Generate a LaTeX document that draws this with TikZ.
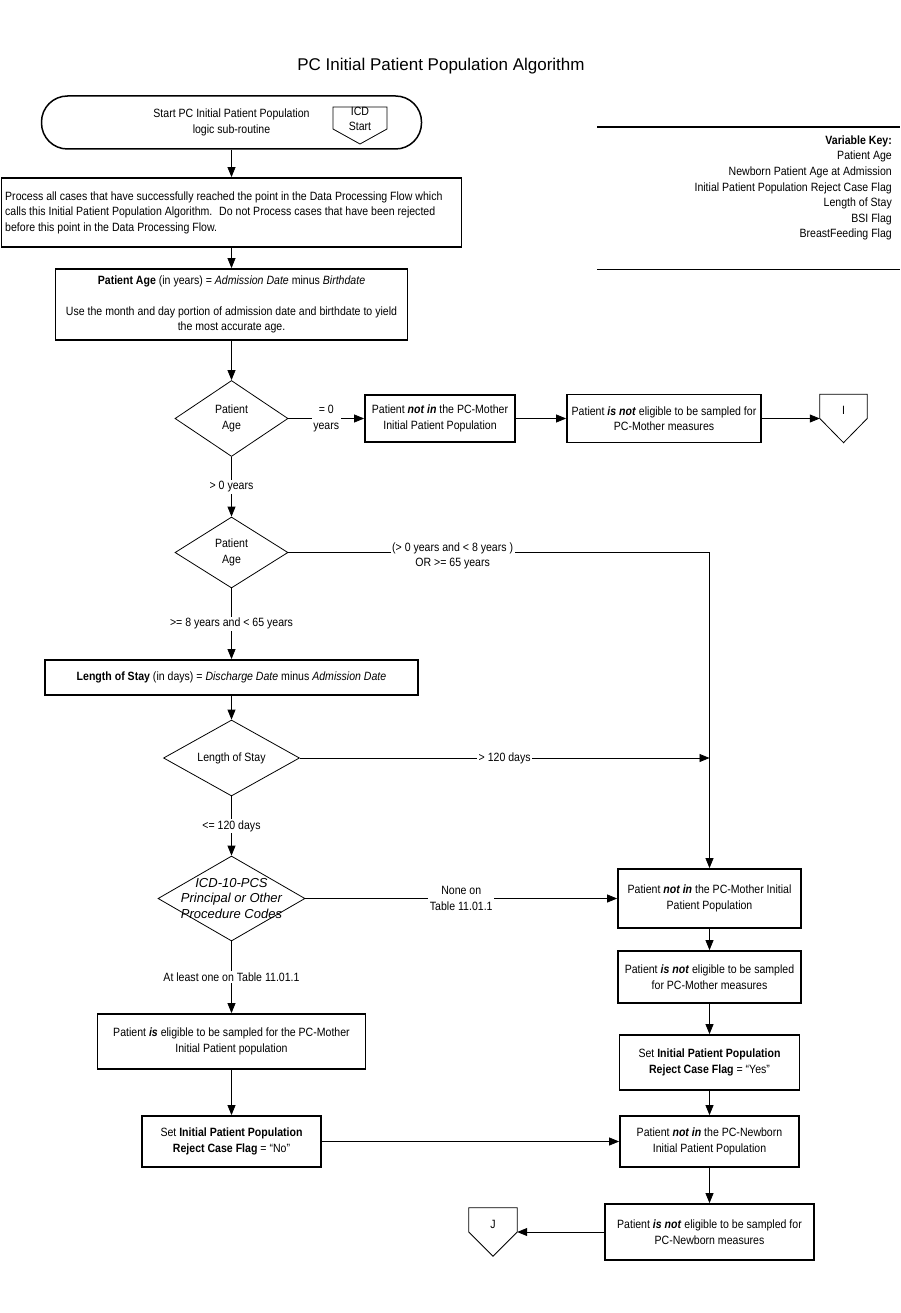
\documentclass[tikz,border=0pt]{standalone}
\usepackage{fontspec}
\setmainfont{Liberation Sans}
\newfontfamily\bodyfont{Liberation Sans}[FakeStretch=0.88]
\usetikzlibrary{shapes.geometric,arrows.meta,calc}
\tikzset{
  txt/.style={font={\bodyfont\fontsize{12}{15.5}\selectfont}, align=center, inner sep=1pt},
  box/.style={txt, draw, line width=1.8pt, inner sep=2pt},
  term/.style={txt, draw, line width=1.5pt, rounded corners=26pt},
  dec/.style={diamond, draw, line width=0.8pt, inner sep=0pt},
  lbl/.style={txt, fill=white, inner sep=1.5pt},
  conn/.style={line width=0.8pt},
  arr/.style={conn, -{Triangle[length=10pt,width=8pt]}},
  offpg/.style={inner sep=0pt, minimum width=47pt, minimum height=48pt},
}
\begin{document}
\begin{tikzpicture}[x=1pt,y=-1pt]
\useasboundingbox (0,0) rectangle (900,1313);

\node[font={\fontsize{17}{20}\selectfont}, inner sep=0pt] (title) at (441,66) {PC Initial Patient Population Algorithm};

% start terminator
\node[term, minimum width=380pt, minimum height=53pt] (start) at (231.5,122.5) {Start PC Initial Patient Population\\logic sub-routine};
\node[txt] (icd) at (360,119) {ICD\\Start};
\draw[conn] ($(icd)+(-27,-12)$) -- ($(icd)+(27,-12)$) -- ($(icd)+(27,10)$) -- ($(icd)+(0,25)$) -- ($(icd)+(-27,10)$) -- cycle;

% variable key
\draw[line width=2pt] (597,127) -- (900,127);
\draw[line width=1pt] (597,270) -- (900,270);
\node[txt, align=right, anchor=north east, font={\bodyfont\fontsize{12}{15.6}\selectfont}] (key) at (893,134.5)
  {\textbf{Variable Key:}\\Patient Age\\Newborn Patient Age at Admission\\Initial Patient Population Reject Case Flag\\Length of Stay\\BSI Flag\\BreastFeeding Flag};

% left column
\node[box, minimum width=460pt, minimum height=69pt] (proc) at (231.5,212.5) {};
\node[txt, align=left, anchor=west] (proctxt) at (4,212.5)
  {Process all cases that have successfully reached the point in the Data Processing Flow which\\calls this Initial Patient Population Algorithm.~ Do not Process cases that have been rejected\\before this point in the Data Processing Flow.};
\node[box, minimum width=352pt, minimum height=71pt] (age) at (231.5,304.5)
  {\textbf{Patient Age} (in years) = \textit{Admission Date} minus \textit{Birthdate}\\[15.5pt]Use the month and day portion of admission date and birthdate to yield\\the most accurate age.};
\node[dec, minimum width=113pt, minimum height=76pt, label={[txt]center:Patient\\Age}] (d1) at (231.5,418.5) {};
\node[dec, minimum width=113pt, minimum height=71pt, label={[txt]center:Patient\\Age}] (d2) at (231.5,552.5) {};
\node[box, minimum width=373pt, minimum height=35pt] (los) at (231.5,677.5)
  {\textbf{Length of Stay} (in days) = \textit{Discharge Date} minus \textit{Admission Date}};
\node[dec, minimum width=136pt, minimum height=76pt, label={[txt]center:Length of Stay}] (d3) at (231.5,758) {};
\node[dec, minimum width=147pt, minimum height=85pt, label={[txt, font={\fontsize{13}{15.5}\selectfont\itshape}]center:ICD-10-PCS\\Principal or Other\\Procedure Codes}] (d4) at (231.5,898.5) {};
\node[box, minimum width=268pt, minimum height=55pt] (l1) at (231.5,1041.5)
  {Patient \textbf{\textit{is}} eligible to be sampled for the PC-Mother\\Initial Patient population};
\node[box, minimum width=179pt, minimum height=51pt] (l2) at (231.5,1141.5)
  {Set \textbf{Initial Patient Population}\\\textbf{Reject Case Flag} = “No”};

% top row
\node[box, minimum width=150pt, minimum height=47pt] (m1) at (440,418.5)
  {Patient \textbf{\textit{not in}} the PC-Mother\\Initial Patient Population};
\node[box, minimum width=194pt, minimum height=48pt] (m2) at (664,418.5)
  {Patient \textbf{\textit{is not}} eligible to be sampled for\\PC-Mother measures};
\node[offpg] (I) at (843.5,418.5) {};
\draw[conn] (I.north west) -- (I.north east) -- (I.east) -- (I.south) -- (I.west) -- cycle;
\node[txt] (Itxt) at ($(I)+(0,-8)$) {I};

% right column
\node[box, minimum width=183pt, minimum height=59pt] (r1) at (709.5,898.5)
  {Patient \textbf{\textit{not in}} the PC-Mother Initial\\Patient Population};
\node[box, minimum width=183pt, minimum height=52pt] (r2) at (709.5,977)
  {Patient \textbf{\textit{is not}} eligible to be sampled\\for PC-Mother measures};
\node[box, minimum width=180pt, minimum height=55pt] (r3) at (709.5,1062.5)
  {Set \textbf{Initial Patient Population}\\\textbf{Reject Case Flag} = “Yes”};
\node[box, minimum width=179pt, minimum height=51pt] (r4) at (709.5,1141.5)
  {Patient \textbf{\textit{not in}} the PC-Newborn\\Initial Patient Population};
\node[box, minimum width=209pt, minimum height=56pt] (r5) at (709.5,1232)
  {Patient \textbf{\textit{is not}} eligible to be sampled for\\PC-Newborn measures};
\node[offpg, minimum width=48pt] (J) at (493,1232) {};
\draw[conn] (J.north west) -- (J.north east) -- (J.east) -- (J.south) -- (J.west) -- cycle;
\node[txt] (Jtxt) at ($(J)+(0,-8)$) {J};

\coordinate (turn) at (r1.north |- d2.east);
\coordinate (join) at (r1.north |- d3.east);

% connectors
\draw[arr] (start) -- (proc);
\draw[arr] (proc) -- (age);
\draw[arr] (age) -- (d1);
\draw[arr] (d1.east) -- node[lbl] (la) {= 0\\years} (m1.west);
\draw[arr] (m1) -- (m2);
\draw[arr] (m2.east) -- (I.west);
\draw[arr] (d1.south) -- node[lbl] (lb) {> 0 years} (d2.north);
\draw[arr] (d2.east) -- node[lbl, pos=0.39, yshift=-3.5pt] (lc) {(> 0 years and < 8 years )\\OR >= 65 years} (turn) -- (r1.north);
\draw[arr] (d2.south) -- node[lbl] (ld) {>= 8 years and < 65 years} (los.north);
\draw[arr] (los) -- (d3);
\draw[arr] (d3.east) -- node[lbl] (le) {> 120 days} (join);
\draw[arr] (d3.south) -- node[lbl] (lf) {<= 120 days} (d4.north);
\draw[arr] (d4.east) -- node[lbl] (lg) {None on\\Table 11.01.1} (r1.west);
\draw[arr] (d4.south) -- node[lbl] (lh) {At least one on Table 11.01.1} (l1.north);
\draw[arr] (l1) -- (l2);
\draw[arr] (l2) -- (r4);
\draw[arr] (r1) -- (r2);
\draw[arr] (r2) -- (r3);
\draw[arr] (r3) -- (r4);
\draw[arr] (r4) -- (r5);
\draw[arr] (r5.west) -- (J.east);
\end{tikzpicture}
\end{document}
